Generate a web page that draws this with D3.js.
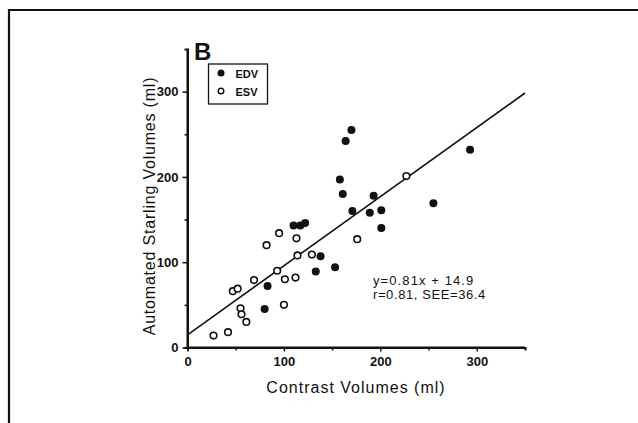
<!DOCTYPE html>
<html>
<head>
<meta charset="utf-8">
<script src="https://cdn.jsdelivr.net/npm/d3@7"></script>
<style>
  body { margin: 0; background: #fff; }
  text { font-family: "Liberation Sans", Arial, sans-serif; fill: #111; }
</style>
</head>
<body>
<div id="chart"></div>
<script>
// EDV (filled) points: contrast volume vs automated Starling volume
const edvX = [80, 83, 110, 117, 122, 133, 138, 153, 158, 161, 164, 170, 171, 189, 193, 201, 201, 255, 293];
const edvY = [45, 72, 143, 143, 146, 89, 107, 94, 197, 180, 242, 255, 160, 158, 178, 161, 140, 169, 232];
// ESV (open) points
const esvX = [27, 42, 47, 52, 55, 56, 61, 69, 82, 93, 95, 100, 101, 112, 113, 114, 129, 176, 227];
const esvY = [14, 18, 66, 69, 46, 39, 30, 79, 120, 90, 134, 50, 80, 82, 128, 108, 109, 127, 201];
const majorTicks = [0, 100, 200, 300];
const minorTicks = [50, 150, 250];
const slope = 0.81, intercept = 14.9;
const eqLines = ["y=0.81x + 14.9", "r=0.81, SEE=36.4"];

const width = 638, height = 423;
const svg = d3.select("#chart").append("svg")
    .attr("width", width)
    .attr("height", height);

// outer frame (cut off at right and bottom like the scan)
svg.append("path")
    .attr("d", "M9,423 V10 H638")
    .attr("fill", "none")
    .attr("stroke", "#111")
    .attr("stroke-width", 2.2);

const x = d3.scaleLinear().domain([0, 350]).range([187.5, 525]);
const y = d3.scaleLinear().domain([0, 350]).range([347.5, 49]);

// y axis
const yAxis = svg.append("g").attr("transform", "translate(" + x(0) + ",0)")
    .call(d3.axisLeft(y).tickValues(majorTicks).tickSize(5).tickPadding(4));
svg.append("g").attr("transform", "translate(" + x(0) + ",0)")
    .call(d3.axisLeft(y).tickValues(minorTicks).tickSize(3).tickFormat(""));

// x axis
const xAxis = svg.append("g").attr("transform", "translate(0," + y(0) + ")")
    .call(d3.axisBottom(x).tickValues(majorTicks).tickSize(4).tickPadding(5));
svg.append("g").attr("transform", "translate(0," + y(0) + ")")
    .call(d3.axisBottom(x).tickValues(minorTicks).tickSize(3).tickFormat(""));

svg.selectAll(".domain").attr("stroke", "#111").attr("stroke-width", 2);
svg.selectAll(".tick line").attr("stroke", "#111").attr("stroke-width", 1.5);
svg.selectAll(".tick text")
    .style("font-family", "'Liberation Sans', Arial, sans-serif")
    .style("font-size", "13px")
    .style("font-weight", "bold")
    .attr("fill", "#111");
// remove outer end-caps from domain path
yAxis.select(".domain").attr("d", "M0," + y(350) + "V" + y(0));
xAxis.select(".domain").attr("d", "M" + x(0) + ",0H" + x(350));

// regression line
svg.append("line")
    .attr("x1", x(0)).attr("y1", y(intercept))
    .attr("x2", x(350)).attr("y2", y(intercept + slope * 350))
    .attr("stroke", "#111")
    .attr("stroke-width", 1.6);

// points
const edv = edvX.map((d, i) => ({ x: d, y: edvY[i] }));
const esv = esvX.map((d, i) => ({ x: d, y: esvY[i] }));

svg.selectAll("circle.edv")
    .data(edv)
    .enter()
    .append("circle")
    .attr("class", "edv")
    .attr("cx", d => x(d.x))
    .attr("cy", d => y(d.y))
    .attr("r", 4)
    .attr("fill", "#111");

svg.selectAll("circle.esv")
    .data(esv)
    .enter()
    .append("circle")
    .attr("class", "esv")
    .attr("cx", d => x(d.x))
    .attr("cy", d => y(d.y))
    .attr("r", 3.3)
    .attr("fill", "#fff")
    .attr("stroke", "#111")
    .attr("stroke-width", 1.6);

// panel letter
svg.append("text")
    .attr("x", 194)
    .attr("y", 60)
    .style("font-size", "24px")
    .style("font-weight", "bold")
    .text("B");

// legend
const legend = svg.append("g").attr("transform", "translate(208.5,64)");
legend.append("rect")
    .attr("width", 59)
    .attr("height", 40)
    .attr("fill", "#fff")
    .attr("stroke", "#111")
    .attr("stroke-width", 1.3);
legend.append("circle").attr("cx", 12.5).attr("cy", 9).attr("r", 3.5).attr("fill", "#111");
legend.append("circle").attr("cx", 12.5).attr("cy", 27).attr("r", 2.8)
    .attr("fill", "#fff").attr("stroke", "#111").attr("stroke-width", 1.4);
legend.append("text").attr("x", 27).attr("y", 13.5)
    .style("font-size", "11px").style("font-weight", "bold").text("EDV");
legend.append("text").attr("x", 27).attr("y", 31.5)
    .style("font-size", "11px").style("font-weight", "bold").text("ESV");

// regression equation
svg.selectAll("text.eq")
    .data(eqLines)
    .enter()
    .append("text")
    .attr("class", "eq")
    .attr("x", 373)
    .attr("y", (d, i) => 285 + i * 13.5)
    .style("font-size", "13px")
    .style("letter-spacing", (d, i) => i === 0 ? "1.1px" : "0.6px")
    .text(d => d);

// axis titles
svg.append("text")
    .attr("x", 356)
    .attr("y", 393)
    .attr("text-anchor", "middle")
    .style("font-size", "16px")
    .style("letter-spacing", "1px")
    .text("Contrast Volumes (ml)");

svg.append("text")
    .attr("transform", "translate(155," + 206 + ") rotate(-90)")
    .attr("text-anchor", "middle")
    .style("font-size", "16px")
    .style("letter-spacing", "0.8px")
    .text("Automated Starling Volumes (ml)");
</script>
</body>
</html>
